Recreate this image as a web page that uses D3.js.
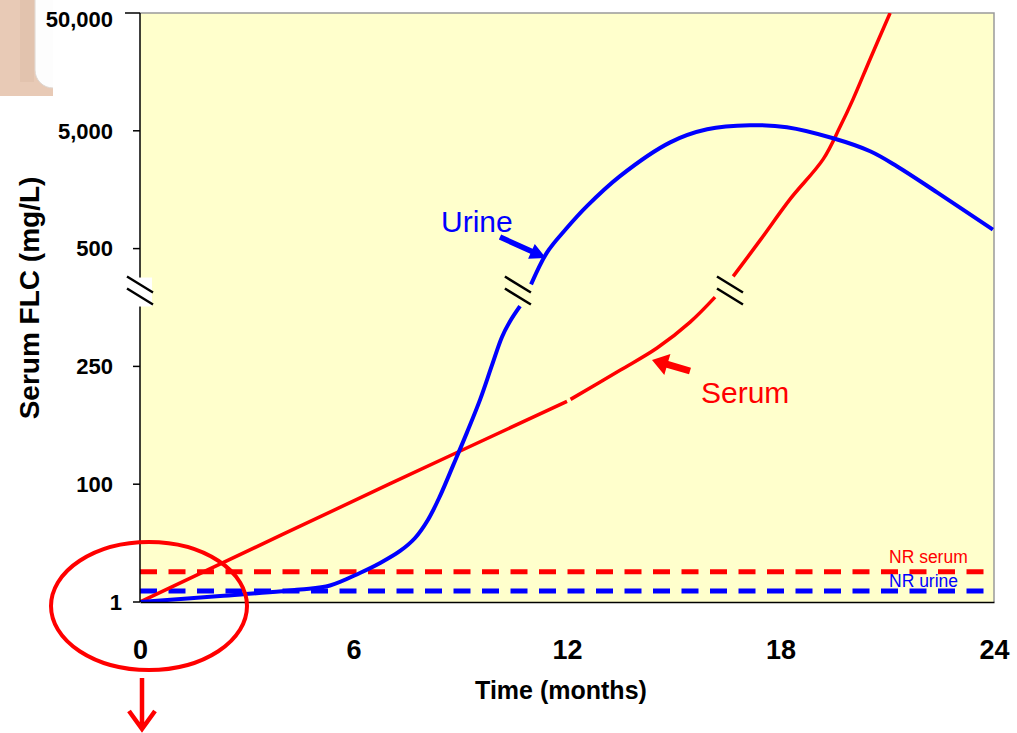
<!DOCTYPE html>
<html>
<head>
<meta charset="utf-8">
<script src="https://cdn.jsdelivr.net/npm/d3@7"></script>
<style>
  body { margin: 0; background: #fff; }
  svg { display: block; }
  text { font-family: Arial, "Liberation Sans", sans-serif; }
</style>
</head>
<body>
<svg id="chart" width="1017" height="733"></svg>
<script>
// ---- data -------------------------------------------------------------
const monthTicks = [0, 6, 12, 18, 24];
const flcTicks = [1, 100, 250, 500, 5000, 50000];
const flcTickLabels = ["1", "100", "250", "500", "5,000", "50,000"];

// urine FLC over time; null leaves the gap at the scale break
const urineMonths = [0, 2.25, 4.5, 5.34, 6.18, 6.75, 7.31, 7.73, 8.09, 8.43, 8.8, 9.19, 9.56, 9.89, 10.17, 10.4, 10.68, 10.8,
                     10.99, 11.44, 11.97, 12.56, 13.49, 14.9, 15.94, 17.14, 18.18, 19.48, 20.52, 21.28, 22.4, 23.97];
const urineFLC    = [1, 6, 11.5, 14.9, 25.4, 33.8, 43.9, 54.8, 69.9, 90, 124, 166, 208, 252, 312, 346, 378, null,
                     424, 492, 733, 1147, 2063, 3990, 5150, 5570, 5360, 4320, 3350, 2490, 1500, 725];

// serum FLC over time
const serumMonths = [0, 7, 12, 12.05, 12.1, 13.49, 14.53, 15.46, 16.16, 16.4,
                     16.67, 17.43, 18.27, 19.2, 19.67, 20.04, 20.52, 21.08];
const serumFLC    = [1, 100, 205.5, null, 208, 245, 289, 344, 397, null,
                     441, 590, 1316, 2875, 5376, 9290, 20370, 50000];

// normal reference levels
const nrSerum = 26.4;
const nrUrine = 10.3;

// where the scale break is marked on the axis and on each line
const breakLevel = 411;
const breakMonthsAxis = 0;
const breakMonthsUrine = 10.62;
const breakMonthsSerum = 16.58;

// ---- layout -----------------------------------------------------------
const plot = { left: 140, top: 13, right: 994, bottom: 602 };
const svg = d3.select("#chart");
const blue = "#0000ff", red = "#ff0000";

const x = d3.scaleLinear().domain([0, 24]).range([plot.left, plot.right]);

// broken y scale: linear up to 500, logarithmic above it
const step = (plot.bottom - plot.top) / 5;
const yLin = d3.scaleLinear()
  .domain([1, 100, 250, 500])
  .range([plot.bottom, plot.bottom - step, plot.bottom - 2 * step, plot.bottom - 3 * step]);
const yLog = d3.scaleLog()
  .domain([500, 50000])
  .range([plot.bottom - 3 * step, plot.top]);
const y = v => (v <= 500 ? yLin(v) : yLog(v));

// ---- decoration in the top-left corner --------------------------------
svg.append("rect").attr("x", 0).attr("y", 0).attr("width", 53).attr("height", 96).attr("fill", "#e8cab6");
svg.append("rect").attr("x", 20).attr("y", 0).attr("width", 14).attr("height", 82).attr("fill", "#e2c3ae");
svg.append("rect").attr("x", 35).attr("y", -30).attr("width", 60).attr("height", 118).attr("rx", 18)
  .attr("fill", "#fdfdfd").attr("stroke", "#ddd6d0").attr("stroke-width", 1);
svg.append("rect").attr("x", 53).attr("y", 0).attr("width", 50).attr("height", 100).attr("fill", "#fff");

// ---- plot area --------------------------------------------------------
svg.append("rect")
  .attr("x", plot.left).attr("y", plot.top)
  .attr("width", plot.right - plot.left).attr("height", plot.bottom - plot.top)
  .attr("fill", "#ffffcc");

svg.append("defs").append("clipPath").attr("id", "plotClip")
  .append("rect")
  .attr("x", plot.left).attr("y", plot.top)
  .attr("width", plot.right - plot.left).attr("height", plot.bottom - plot.top);

// top and right frame
svg.append("path")
  .attr("d", `M${plot.left},${plot.top}H${plot.right}V${plot.bottom}`)
  .attr("fill", "none").attr("stroke", "#9a9a9a").attr("stroke-width", 1.5);

// normal-range dashed lines
[[nrSerum, red], [nrUrine, blue]].forEach(([v, c]) => {
  svg.append("line")
    .attr("x1", x(0)).attr("x2", x(24))
    .attr("y1", y(v)).attr("y2", y(v))
    .attr("stroke", c).attr("stroke-width", 5)
    .attr("stroke-dasharray", "17,11.5");
});

svg.append("text").attr("x", 889).attr("y", y(nrSerum) - 9)
  .attr("fill", red).attr("font-size", 17.5).text("NR serum");
svg.append("text").attr("x", 889).attr("y", y(nrUrine) - 4)
  .attr("fill", blue).attr("font-size", 17.5).text("NR urine");

// ---- series -----------------------------------------------------------
const line = d3.line()
  .defined(d => d[1] != null)
  .x(d => x(d[0]))
  .y(d => y(d[1]))
  .curve(d3.curveCatmullRom.alpha(0.5));

const lines = svg.append("g").attr("clip-path", "url(#plotClip)");
lines.append("path")
  .datum(d3.zip(serumMonths, serumFLC))
  .attr("d", line)
  .attr("fill", "none").attr("stroke", red).attr("stroke-width", 3.5);
lines.append("path")
  .datum(d3.zip(urineMonths, urineFLC))
  .attr("d", line)
  .attr("fill", "none").attr("stroke", blue).attr("stroke-width", 4);

// ---- axes -------------------------------------------------------------
// y axis drawn from the broken scale
const yAxis = svg.append("g");
yAxis.append("line")
  .attr("x1", plot.left).attr("x2", plot.left)
  .attr("y1", plot.top).attr("y2", plot.bottom)
  .attr("stroke", "#000").attr("stroke-width", 1.5);
flcTicks.forEach((v, i) => {
  const ty = y(v);
  yAxis.append("line")
    .attr("x1", plot.left - (i === flcTicks.length - 1 ? 15 : 7)).attr("x2", plot.left)
    .attr("y1", ty).attr("y2", ty)
    .attr("stroke", "#000").attr("stroke-width", 1.5);
  yAxis.append("text")
    .attr("x", i === 0 ? 122 : 113)
    .attr("y", Math.max(ty, plot.top + 6))
    .attr("dy", "0.35em")
    .attr("text-anchor", "end")
    .attr("font-size", 22).attr("font-weight", "bold")
    .text(flcTickLabels[i]);
});

// x axis
const xAxis = svg.append("g")
  .attr("transform", `translate(0,${plot.bottom})`)
  .call(d3.axisBottom(x).tickValues(monthTicks).tickSize(0).tickPadding(38).tickFormat(d3.format("d")));
xAxis.select(".domain").attr("stroke", "#000").attr("stroke-width", 1.5);
xAxis.selectAll(".tick text")
  .attr("font-family", 'Arial, "Liberation Sans", sans-serif')
  .attr("font-size", 27).attr("font-weight", "bold").attr("fill", "#000");

// axis titles
svg.append("text")
  .attr("x", (plot.left + plot.right) / 2 - 6).attr("y", 699)
  .attr("text-anchor", "middle")
  .attr("font-size", 25).attr("font-weight", "bold")
  .text("Time (months)");
svg.append("text")
  .attr("transform", "translate(39,298) rotate(-90)")
  .attr("text-anchor", "middle")
  .attr("font-size", 28).attr("font-weight", "bold")
  .text("Serum FLC (mg/L)");

// ---- scale-break marks ------------------------------------------------
const by = y(breakLevel);
svg.append("rect")
  .attr("x", x(breakMonthsAxis) - 14).attr("y", by - 13)
  .attr("width", 26).attr("height", 29).attr("fill", "#fff");
[breakMonthsAxis, breakMonthsUrine, breakMonthsSerum].forEach(m => {
  const bx = x(m);
  [[-14, 2], [-2, 14]].forEach(([a, b]) => {
    svg.append("line")
      .attr("x1", bx - 13).attr("y1", by + a)
      .attr("x2", bx + 13).attr("y2", by + b)
      .attr("stroke", "#000").attr("stroke-width", 2.5);
  });
});

// ---- annotations ------------------------------------------------------
function arrowPath(tail, tip, shaftW, headL, headW) {
  const dx = tip[0] - tail[0], dy = tip[1] - tail[1];
  const len = Math.hypot(dx, dy);
  const ux = dx / len, uy = dy / len, nx = -uy, ny = ux;
  const bx = tip[0] - ux * headL, by2 = tip[1] - uy * headL;
  const p = [
    [tail[0] + nx * shaftW / 2, tail[1] + ny * shaftW / 2],
    [bx + nx * shaftW / 2, by2 + ny * shaftW / 2],
    [bx + nx * headW, by2 + ny * headW],
    tip,
    [bx - nx * headW, by2 - ny * headW],
    [bx - nx * shaftW / 2, by2 - ny * shaftW / 2],
    [tail[0] - nx * shaftW / 2, tail[1] - ny * shaftW / 2]
  ];
  return "M" + p.map(q => q.join(",")).join("L") + "Z";
}

svg.append("text").attr("x", 441).attr("y", 232)
  .attr("fill", blue).attr("font-size", 30).text("Urine");
svg.append("path").attr("d", arrowPath([500, 237], [546, 258], 5.5, 16, 8)).attr("fill", blue);

svg.append("text").attr("x", 701).attr("y", 403)
  .attr("fill", red).attr("font-size", 30).text("Serum");
svg.append("path").attr("d", arrowPath([690, 371], [652, 360], 7, 16, 11)).attr("fill", red);

// highlight around the starting point
svg.append("ellipse")
  .attr("cx", x(0) + 9).attr("cy", y(1) + 4)
  .attr("rx", 98).attr("ry", 64)
  .attr("fill", "none").attr("stroke", red).attr("stroke-width", 4);

svg.append("path")
  .attr("d", "M142,678V729M129,711L142,729L155,711")
  .attr("fill", "none").attr("stroke", red).attr("stroke-width", 4.5);
</script>
</body>
</html>
